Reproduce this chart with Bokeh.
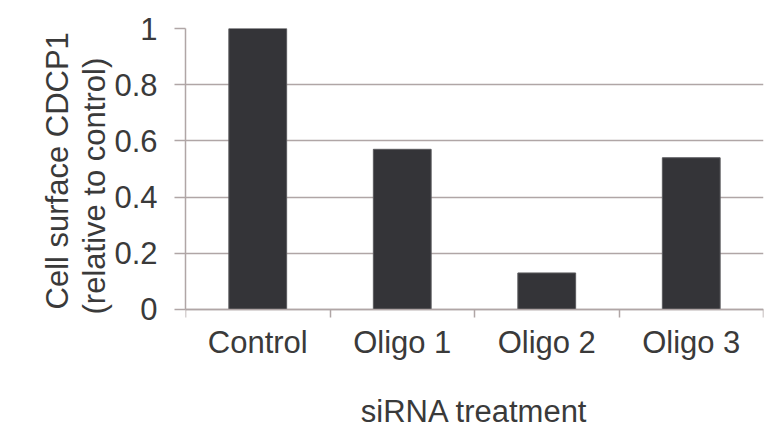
from bokeh.plotting import figure
from bokeh.models import Range1d, FixedTicker, PrintfTickFormatter, Title, LinearAxis
from bokeh.embed import file_html
from bokeh.resources import INLINE

categories = ["Control", "Oligo 1", "Oligo 2", "Oligo 3"]
values = [1.0, 0.57, 0.13, 0.54]
y_ticks = [0, 0.2, 0.4, 0.6, 0.8, 1.0]
x_title = "siRNA treatment"
y_title_lines = ["Cell surface CDCP1", "(relative to control)"]

centers = [i + 0.5 for i in range(len(categories))]
bounds = [float(i) for i in range(len(categories) + 1)]

FONT = "Liberation Sans"
FS = "31px"
TXT = "#3a3a3a"
GRID = "#b0a6a6"

# the frame runs down to the bottom edge; the x axis sits at y = 0
p = figure(width=764, height=427, output_backend="svg", toolbar_location=None,
           x_range=Range1d(0, len(categories)), y_range=Range1d(-0.42, 1),
           min_border_left=185, min_border_right=1, min_border_top=28, min_border_bottom=0)
p.outline_line_color = None
p.background_fill_color = "white"
p.border_fill_color = "white"

p.vbar(x=centers, top=values, width=0.4, fill_color="#343438", line_color="#5a5a5e", line_width=1)

# y axis
ya = p.yaxis[0]
ya.bounds = (0, 1)
ya.ticker = FixedTicker(ticks=y_ticks, minor_ticks=[])
ya.formatter = PrintfTickFormatter(format="%g")
ya.axis_line_color = GRID
ya.axis_line_width = 1.5
ya.major_tick_line_color = GRID
ya.major_tick_line_width = 1.5
ya.major_tick_out = 11
ya.major_tick_in = 0
ya.minor_tick_line_color = None
ya.major_label_standoff = 17
ya.major_label_text_font = FONT
ya.major_label_text_font_size = FS
ya.major_label_text_color = TXT

# empty spacer between the tick labels and the two title lines
spacer = LinearAxis(ticker=FixedTicker(ticks=[], minor_ticks=[]), axis_line_color=None,
                    major_tick_line_color=None, minor_tick_line_color=None,
                    major_tick_out=50, major_tick_in=0, minor_tick_out=0, minor_tick_in=0)
p.add_layout(spacer, "left")

p.add_layout(Title(text=y_title_lines[1], align="left", offset=113, standoff=0,
                   text_font=FONT, text_font_size=FS, text_font_style="normal",
                   text_color=TXT), "left")
p.add_layout(Title(text=y_title_lines[0], align="left", offset=118, standoff=0,
                   text_font=FONT, text_font_size=FS, text_font_style="normal",
                   text_color=TXT), "left")

# x axis
xa = p.xaxis[0]
xa.fixed_location = 0
xa.ticker = FixedTicker(ticks=centers, minor_ticks=bounds)
xa.major_label_overrides = {c: lab for c, lab in zip(centers, categories)}
xa.axis_line_color = GRID
xa.axis_line_width = 1.5
xa.major_tick_line_color = None
xa.major_tick_out = 0
xa.major_tick_in = 0
xa.minor_tick_line_color = GRID
xa.minor_tick_line_width = 1.5
xa.minor_tick_out = 8
xa.minor_tick_in = 0
xa.major_label_standoff = 8
xa.major_label_text_font = FONT
xa.major_label_text_font_size = FS
xa.major_label_text_color = TXT
xa.axis_label = x_title
xa.axis_label_text_font = FONT
xa.axis_label_text_font_size = FS
xa.axis_label_text_font_style = "normal"
xa.axis_label_text_color = TXT
xa.axis_label_standoff = 30

p.xgrid.grid_line_color = None
p.ygrid.ticker = FixedTicker(ticks=y_ticks)
p.ygrid.grid_line_color = GRID
p.ygrid.grid_line_width = 1.5

open("out.html", "w").write(file_html(p, INLINE))
